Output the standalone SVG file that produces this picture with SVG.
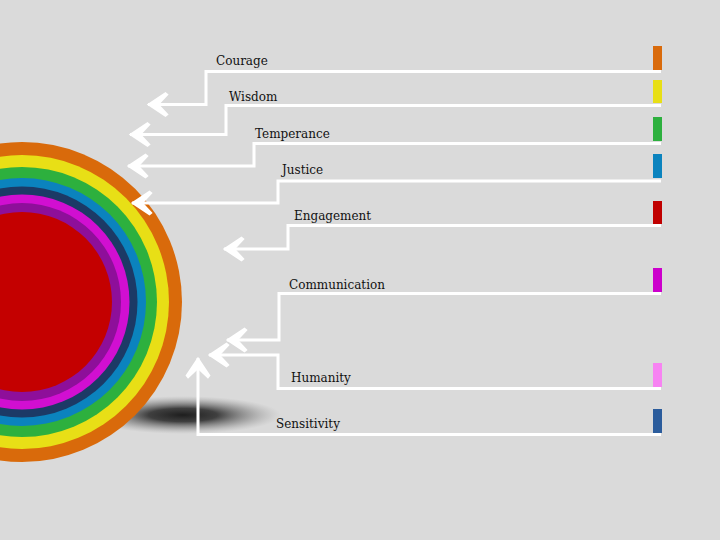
<svg xmlns="http://www.w3.org/2000/svg" width="720" height="540" viewBox="0 0 720 540">
  <style>
    .lbl { font-family: "DejaVu Serif", "Liberation Serif", serif; font-size: 12px; fill: #111; }
    .conn { fill: none; stroke: #fff; stroke-width: 3; stroke-linejoin: miter; marker-end: url(#arr); }
  </style>
  <defs>
    <marker id="arr" markerUnits="userSpaceOnUse" orient="auto" markerWidth="30" markerHeight="30" viewBox="-20 -12 22 24" refX="0" refY="0">
      <path d="M1,0 L-14,-10 L-16.5,-8 L-9,0 L-16.5,8 L-14,10 Z" fill="#fff"/>
    </marker>
    <radialGradient id="shadow" cx="0.5" cy="0.5" r="0.5">
      <stop offset="0" stop-color="#1e1e1e" stop-opacity="1"/>
      <stop offset="0.35" stop-color="#2e2e2e" stop-opacity="0.9"/>
      <stop offset="0.7" stop-color="#6a6a6a" stop-opacity="0.45"/>
      <stop offset="1" stop-color="#999" stop-opacity="0"/>
    </radialGradient>
  </defs>
  <rect width="720" height="540" fill="#dadada"/>

  <g id="target">
    <ellipse cx="183" cy="415" rx="98" ry="19" fill="url(#shadow)"/>
    <circle cx="22" cy="302" r="160" fill="#d96a0b"/>
    <circle cx="22" cy="302" r="147" fill="#e8df16"/>
    <circle cx="22" cy="302" r="135" fill="#2db03e"/>
    <circle cx="22" cy="302" r="124" fill="#0b83be"/>
    <circle cx="22" cy="302" r="115.5" fill="#1c3a66"/>
    <circle cx="22" cy="302" r="107.5" fill="#d10fd1"/>
    <circle cx="22" cy="302" r="99" fill="#8e0f9a"/>
    <circle cx="22" cy="302" r="90" fill="#c40000"/>
  </g>

  <g id="connectors">
    <polyline class="conn" points="661,71.5 206,71.5 206,104.5 148,104.5"/>
    <polyline class="conn" points="661,105.5 226,105.5 226,134.5 130,134.5"/>
    <polyline class="conn" points="661,143.5 254,143.5 254,166 128,166"/>
    <polyline class="conn" points="661,181 278,181 278,203 132,203"/>
    <polyline class="conn" points="661,225.5 288,225.5 288,249 224,249"/>
    <polyline class="conn" points="661,293.5 279,293.5 279,340 227,340"/>
    <polyline class="conn" points="661,388.5 278,388.5 278,355 209,355"/>
    <polyline class="conn" points="661,434.5 198,434.5 198,358"/>
  </g>

  <g id="courage">
    <rect x="653" y="46" width="9" height="24" fill="#d96a0b"/>
    <text class="lbl" x="216" y="65">Courage</text>
  </g>
  <g id="wisdom">
    <rect x="653" y="80" width="9" height="23" fill="#e8df16"/>
    <text class="lbl" x="229" y="101">Wisdom</text>
  </g>
  <g id="temperance">
    <rect x="653" y="117" width="9" height="24" fill="#2db03e"/>
    <text class="lbl" x="255" y="138">Temperance</text>
  </g>
  <g id="justice">
    <rect x="653" y="154" width="9" height="24" fill="#0b83be"/>
    <text class="lbl" x="282" y="174">Justice</text>
  </g>
  <g id="engagement">
    <rect x="653" y="201" width="9" height="23" fill="#c00000"/>
    <text class="lbl" x="294" y="220">Engagement</text>
  </g>
  <g id="communication">
    <rect x="653" y="268" width="9" height="24" fill="#cc00cc"/>
    <text class="lbl" x="289" y="289">Communication</text>
  </g>
  <g id="humanity">
    <rect x="653" y="363" width="9" height="24" fill="#f783f2"/>
    <text class="lbl" x="291" y="382">Humanity</text>
  </g>
  <g id="sensitivity">
    <rect x="653" y="409" width="9" height="24" fill="#2b5c9c"/>
    <text class="lbl" x="276" y="428">Sensitivity</text>
  </g>
</svg>
